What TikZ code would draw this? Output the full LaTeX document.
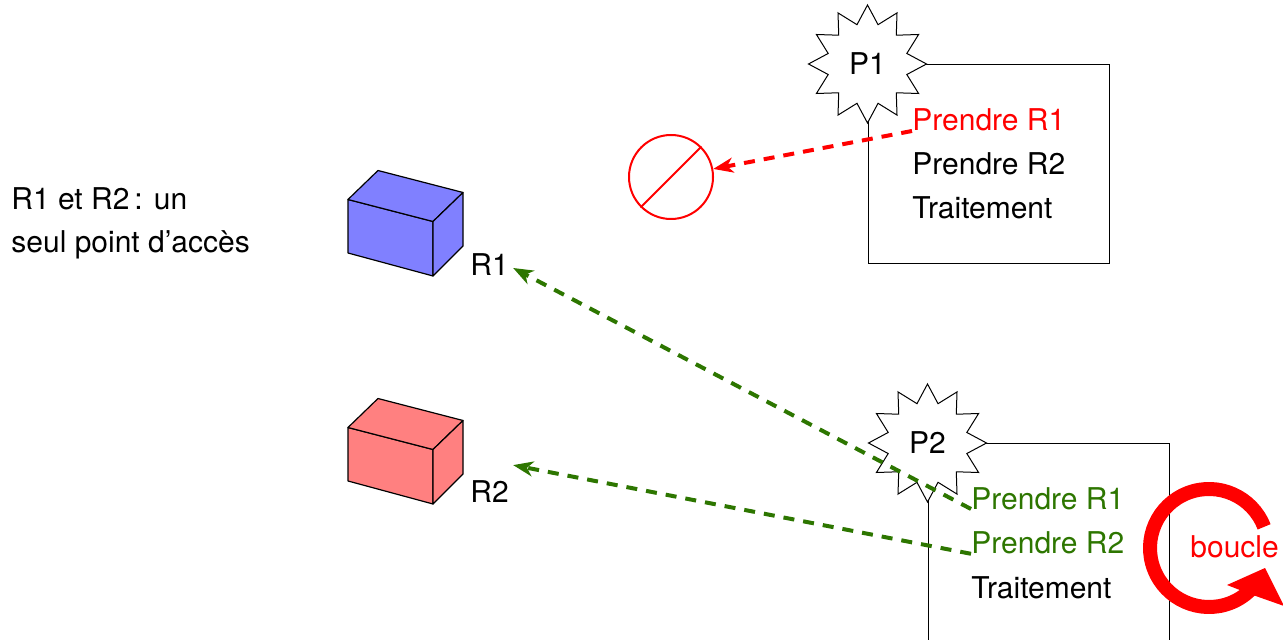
\documentclass[tikz,border=0pt]{standalone}
\usepackage{fontspec}
\setmainfont{TeX Gyre Heros}
\usepackage{xcolor}
\usepackage{tikz}
\usetikzlibrary{positioning}
\usetikzlibrary{arrows.meta}
\usetikzlibrary{shapes.geometric}
\definecolor{darkgreen}{RGB}{45,118,0}

\begin{document}
\begin{tikzpicture}[
x=0.5pt, y=-0.5pt,
font=\fontsize{15}{21.7}\selectfont,
processnode/.style={rectangle, draw, line width=0.5pt, minimum width=120.5pt, minimum height=99.5pt, anchor=north west},
starnode/.style={star, star points=12, star point ratio=1.45, minimum size=59pt, inner sep=0pt, draw, fill=white, line width=0.5pt},
linenode/.style={inner sep=0pt, text height=11pt, text depth=3pt},
labelnode/.style={inner sep=2pt, text height=11pt, text depth=3pt},
notenode/.style={inner sep=0pt, align=left},
dashedarrow/.style={line width=2pt, dash pattern=on 5.5pt off 4.5pt, -{Stealth[length=10pt, width=7.5pt, inset=3pt]}},
pics/resource/.style={code={
  \draw[fill=#1, line width=0.6pt, line join=round] (0,0) -- (85,23) -- (85,-31.5) -- (0,-53.5) -- cycle;
  \draw[fill=#1, line width=0.6pt, line join=round] (0,-53.5) -- (30,-82.5) -- (115,-60.5) -- (85,-31.5) -- cycle;
  \draw[fill=#1, line width=0.6pt, line join=round] (85,23) -- (115,-7) -- (115,-60.5) -- (85,-31.5) -- cycle;
}},
]
\useasboundingbox (0,0) rectangle (1283,640);

%Resources
\node[notenode, anchor=north west]	(note)	at (11,186.8)	{R1 et R2\,: un\\seul point d'accès};
\pic at (348,253) {resource=blue!50};
\pic at (348,481) {resource=red!50};
\node[labelnode, anchor=base west]	(r1lab)	at (466,276)	{R1};
\node[labelnode, anchor=base west]	(r2lab)	at (466,502.5)	{R2};

%Process 1
\node[processnode]	(proc1)	at (867.5,64)	{};
\node[starnode]		(p1)	at (proc1.north west)	{P1};
\node[linenode, red, anchor=base west]	(p1r1)	at (912,131)	{Prendre R1};
\node[linenode]		(p1r2)	[below right=7.5pt and 0pt of p1r1.south west]	{Prendre R2};
\node[linenode]		(p1trt)	[below right=7.5pt and 0pt of p1r2.south west]	{Traitement};
\node[circle, draw=red, line width=1pt, minimum size=42pt]	(nope)	at (671,177)	{};

%Process 2
\node[processnode]	(proc2)	at (927.5,443)	{};
\node[starnode]		(p2)	at (proc2.north west)	{P2};
\node[linenode, darkgreen, anchor=base west]	(p2r1)	at (971,509)	{Prendre R1};
\node[linenode, darkgreen]	(p2r2)	[below right=8pt and 0pt of p2r1.south west]	{Prendre R2};
\node[linenode]		(p2trt)	[below right=8pt and 0pt of p2r2.south west]	{Traitement};
\node[labelnode, red, anchor=base west]	(boucle)	at (1186,557)	{boucle};

%Lines
\draw[red, line width=1pt] (nope.45) -- (nope.225);
\draw[dashedarrow, red] (p1r1.base west) -- (nope);
\draw[dashedarrow, darkgreen] (p2r1.base west) -- (r1lab.east);
\coordinate (r2in) at ([yshift=5.5pt]r2lab.north east);
\draw[dashedarrow, darkgreen] (p2r2.base west) -- (r2in);

%Loop arrow
\draw[red, line width=7pt] (1209,548) ++(21:29.5pt) arc[start angle=21, end angle=318, radius=29.5pt];
\fill[red] (1227,585) -- (1265,568) -- (1284,606) -- (1250,594) -- cycle;
\end{tikzpicture}
\end{document}
